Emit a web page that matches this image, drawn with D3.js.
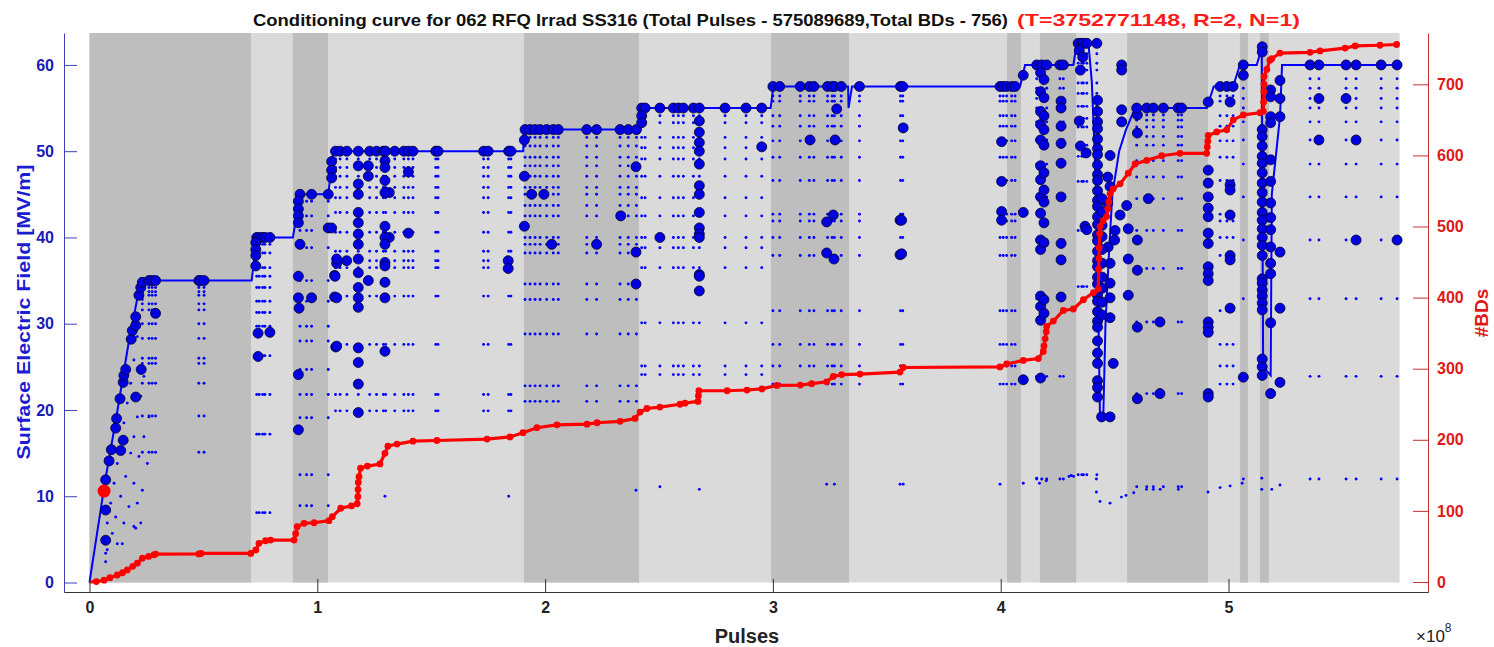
<!DOCTYPE html>
<html><head><meta charset="utf-8">
<script src="https://cdn.jsdelivr.net/npm/d3@7"></script>
<style>body{margin:0;background:#fff;} svg{display:block;} text{font-family:"Liberation Sans",Arial,sans-serif;}</style>
</head><body><svg id="c" width="1494" height="647"></svg>
<script>
// ---------------- DATA (pulses in units of 1e8) ----------------
const titleMain = "Conditioning curve for 062 RFQ Irrad SS316 (Total Pulses - 575089689,Total BDs - 756)";
const titleRed = "(T=3752771148, R=2, N=1)";
const totalPulses = 5.75089689;
const xTicks = [0,1,2,3,4,5];
const leftTicks = [0,10,20,30,40,50,60];
const rightTicks = [0,100,200,300,400,500,600,700];

// darker shaded periods [start, end]
const darkBands = [[0,0.709],[0.893,1.047],[1.907,2.412],[2.992,3.334],[4.028,4.089],[4.172,4.331],[4.555,4.910],[5.050,5.085],[5.138,5.177]];

// conditioning field set-point (blue line)
const fieldLine = [[0,0],[0.07,12],[0.12,19.5],[0.17,27.5],[0.225,35],[0.712,35],[0.733,40],[0.893,40],[0.924,45],[1.048,45],[1.07,50],[1.904,50],[1.907,52.5],[2.409,52.5],[2.431,55],[2.99,55],[3.002,57.5],[3.33,57.5],[3.332,55],[3.347,57.5],[4.085,57.5],[4.107,60],[4.319,60],[4.334,62.5],[4.385,62.5],[4.40,58],[4.42,45],[4.436,19],[4.45,19],[4.46,30],[4.475,38],[4.49,45],[4.52,50],[4.55,52.5],[4.59,55],[4.905,55],[4.935,57.5],[5.02,57.5],[5.05,60],[5.124,60],[5.146,62],[5.152,25],[5.185,24],[5.19,45],[5.226,54],[5.235,60],[5.75,60]];

// breakdown events (large blue markers)
const bigDots = [[0.071,4.9],[0.071,8.4],[0.071,11.9],[0.086,14.1],[0.096,15.4],[0.137,15.3],[0.148,16.5],[0.115,17.9],[0.119,19.0],[0.134,21.3],[0.203,21.5],[0.148,23.2],[0.151,24.0],[0.159,24.7],[0.227,24.7],[0.183,28.2],[0.188,29.2],[0.203,29.8],[0.203,30.8],[0.29,31.2],[0.217,33.3],[0.225,34.2],[0.232,34.8],[0.261,35],[0.275,35],[0.29,35],[0.48,35],[0.487,35],[0.503,35],
[0.734,40],[0.745,40],[0.76,40],[0.77,40],[0.792,40],[0.73,39.4],[0.73,38.6],[0.73,37.9],[0.73,36.7],[0.74,28.9],[0.792,29.0],[0.74,26.2],
[0.924,45],[0.975,45],[1.048,45],[0.917,44.2],[0.917,43.3],[0.917,42.5],[0.917,41.7],[0.924,39.2],[0.917,35.5],[0.917,33.0],[0.975,33.0],[0.917,24.1],[0.917,17.7],[1.048,41.1],[0.92,31.8],[1.081,27.3],[1.076,33.1],[1.076,35.6],[1.085,37.0],
[1.08,50],[1.10,50],[1.13,50],[1.18,50],[1.23,50],[1.26,50],[1.063,48.8],[1.063,47.8],[1.063,46.9],[1.063,41.1],[1.085,37.5],[1.129,37.3],[1.078,35.5],[1.085,33.0],[1.085,27.4],[1.224,48.3],[1.224,47.1],[1.224,35.0],
[1.29,50],[1.30,50],[1.34,50],[1.38,50],[1.40,50],[1.42,50],[1.52,50],[1.53,50],[1.73,50],[1.75,50],[1.84,50],[1.85,50],[1.316,45.2],[1.316,40.0],[1.40,47.6],[1.40,40.5],[1.838,37.3],[1.838,36.4],
[1.912,52.5],[1.934,52.5],[1.956,52.5],[1.978,52.5],[2.007,52.5],[2.036,52.5],[2.058,52.5],[2.183,52.5],[2.226,52.5],[2.329,52.5],[2.365,52.5],[2.401,52.5],[1.909,51.3],[1.909,47.1],[1.909,41.3],[1.941,45.0],[1.995,45.0],[2.029,39.2],[2.226,39.2],[2.332,42.5],[2.399,48.2],[2.399,38.3],[2.399,34.6],
[2.424,55],[2.439,55],[2.504,55],[2.563,55],[2.585,55],[2.607,55],[2.651,55],[2.677,55],[2.79,55],[2.882,55],[2.951,55],[2.424,54.1],[2.424,53.3],[2.504,40.0],[2.951,50.5],
[3.0,57.5],[3.03,57.5],[3.12,57.5],[3.16,57.5],[3.18,57.5],[3.24,57.5],[3.26,57.5],[3.27,57.5],[3.30,57.5],[3.38,57.5],[3.56,57.5],[3.57,57.5],[3.163,51.3],[3.273,51.3],[3.28,54.9],[3.572,52.7],[3.236,41.8],[3.265,42.6],[3.236,38.2],[3.268,37.5],[3.558,42.0],[3.565,42.0],[3.558,38.0],[3.565,38.1],
[3.997,57.5],[4.011,57.5],[4.026,57.5],[4.048,57.5],[4.063,57.5],[4.158,60],[4.18,60],[4.202,60],[4.26,60],[4.275,60],[4.099,58.8],[4.004,51.1],[4.004,46.5],[4.004,43.0],[4.004,42.0],[4.099,42.9],[4.099,23.5],
[4.34,62.5],[4.356,62.5],[4.363,62.5],[4.378,62.5],[4.422,62.5],[4.345,61.7],[4.36,60.9],[4.35,59.4],[4.345,53.5],[4.35,50.6],[4.375,49.8],[4.37,41.3],[4.378,40.9],
[4.443,19.2],[4.48,19.2],[4.48,49.5],[4.48,45.9],[4.494,25.4],[4.531,60.0],[4.531,59.4],[4.531,54.8],[4.531,53.4],[4.6,54.2],[4.6,52.1],[4.6,39.7],[4.6,36.2],[4.6,29.6],[4.6,21.3],[4.56,41.0],[4.56,37.5],[4.56,33.3],[4.553,43.7],[4.524,42.6],[4.502,40.8],[4.472,38.9],[4.48,37.0],[4.48,34.7],[4.48,33.0],[4.48,30.7],[4.50,39.7],[4.47,44],[4.47,47],
[4.597,55],[4.641,55],[4.670,55],[4.714,55],[4.779,55],[4.794,55],[4.648,44.5],[4.699,30.2],[4.699,21.9],
[4.963,57.5],[4.993,57.5],[5.02,57.5],[5.007,55.7],[5.007,46.1],[5.007,45.5],[5.007,42.6],[5.007,37.9],[5.007,37.4],[5.007,31.8],[5.065,60.0],[5.065,23.8],[5.065,58.8],
[5.226,58.2],[5.226,56.1],[5.226,54.0],[5.226,38.3],[5.226,31.8],[5.226,23.2],
[5.358,60],[5.397,60],[5.516,60],[5.560,60],[5.670,60],[5.740,60],[5.397,56.1],[5.516,56.1],[5.397,51.3],[5.560,51.3],[5.560,39.7],[5.740,39.7]];

// dense stacks of breakdown markers: [pulses, [fields]]
const bigStacks = [
 [1.18,[48.3,46.2,45.0,42.9,41.7,40.4,39.2,37.5,35.9,34.2,33.0,31.9,27.2,25.5,23.0,19.7]],
 [1.297,[48.9,48.1,46.6,45.2,41.3,40.0,39.2,37.1,36.7,34.8,33.0,26.8]],
 [2.677,[53.5,52.2,51.0,50.0,48.5,46.0,45.0,42.9,41.1,40.4,40.0,35.7,35.5,33.8]],
 [4.175,[59.1,56.9,54.6,53.1,51.3,48.3,46.7,44.7,42.8,39.7,38.6,33.2,32.0,30.4,23.7]],
 [4.19,[58.3,56.2,54.1,52.5,50.7,47.5,45.5,44.1,41.7,39.4,32.8,31.2]],
 [4.265,[55.8,55.0,52.9,50.9,48.6,44.7,39.3,37.4,33.1]],
 [4.425,[55.9,54.6,53.4,52.6,51.4,50.3,49.6,48.4,47.3,46.6,45.4,44.3,43.6,42.4,41.5,40.3,39.6,38.4,37.3,36.6,35.4,34.6,33.3,32.6,31.4,30.3,29.6,28.0,26.6,25.4,23.4,22.6,21.5]],
 [4.445,[44.5,43.0,41.4,40.1,38.6,37.0,35.4,34.1,32.5,31.0]],
 [4.911,[55.7,47.8,46.3,44.7,43.4,42.4,40.5,39.3,36.6,35.8,35.0,30.2,29.6,29.0,21.9,21.5]],
 [5.148,[62.1,61.5,52.5,51.7,50.6,49.4,48.6,47.5,46.3,45.2,44.1,42.9,42.0,41.0,40.0,39.1,37.9,35.2,34.7,33.9,33.2,32.4,31.6,25.9,25.0,24.0]],
 [5.185,[57.1,56.3,54.0,53.3,49.0,46.5,44.0,42.3,40.9,38.9,37.0,35.8,30.1,21.9]]
];

// small pulse markers: columns (pulses) and the field levels seen below each plateau
const cols35 = [0.232,0.261,0.275,0.29,0.48,0.503];
const lv35 = [34.2,33.7,33.3,32.3,31.6,30.0,28.3,26.0,25.4,23.1,19.3,15.1];
const cols40 = [0.734,0.745,0.76,0.77,0.792];
const lv40 = [39.2,38.2,36.5,35.5,34.2,32.6,31.3,29.7,26.3,21.8,17.2,8.1];
const cols45 = [0.924,0.953,0.975,1.048];
const lv45 = [44.2,42.5,40.8,38.8,35.0,32.6,29.7,28.0,24.7,21.8,19.1,12.5,8.9];
const cols50 = [1.08,1.10,1.13,1.18,1.23,1.26,1.29,1.30,1.34,1.38,1.40,1.42,1.52,1.53,1.73,1.75,1.84,1.85];
const lv50 = [49.1,48.1,47.1,45.8,44.6,42.9,40.6,38.4,37.3,36.5,33.2,27.6,21.8,19.9];
const cols52 = [1.912,1.934,1.956,1.978,2.007,2.036,2.058,2.183,2.226,2.329,2.365,2.401];
const lv52 = [51.6,50.6,49.3,48.3,47.1,45.8,45.0,43.7,42.5,40.0,39.2,38.2,34.6,32.8,28.8,22.8,21.0];
const cols55 = [2.424,2.439,2.504,2.563,2.585,2.607,2.651,2.677,2.79,2.882,2.951];
const lv55 = [54.1,53.3,51.6,50.4,49.1,47.1,44.6,42.5,40.0,38.8,36.5,30.1,25.1,24.1];
const cols57 = [3.0,3.03,3.12,3.16,3.18,3.24,3.26,3.27,3.30,3.38,3.56,3.57,3.997,4.011,4.026,4.048,4.063,4.963,4.993,5.02];
const lv57 = [56.4,55.8,54.1,52.9,51.2,49.3,46.6,42.7,41.9,40.0,37.9,31.5,27.6,25.1,23.0];
const cols60 = [4.158,4.18,4.202,4.26,4.275,5.065,5.358,5.397,5.516,5.560,5.670,5.740];
const lv60 = [58.4,57.3,56.1,55.0,53.4,51.3,48.5,44.7,39.7,32.9,23.9,12.0];
const cols62 = [4.34,4.356,4.363,4.378,4.422];
const lv62 = [61.3,60.2,59.4,57.9,56.7,55.2,53.8,52.8,50.7,49.4,46.5,40.8,34.3,12.5];
const cols55b = [4.597,4.641,4.670,4.714,4.779,4.794];
const lv55b = [54.2,53.6,52.8,51.7,50.7,48.9,47.0,44.5,40.8,36.4,30.2,21.9,11.1];

// isolated small pulse markers [pulses, field]
const smallDots = [[0.078,6.9],[0.093,9.2],[0.108,11.5],[0.122,13.8],[0.137,16.2],[0.151,18.5],[0.166,20.8],[0.181,23.1],[0.195,25.8],[0.21,28.5],[0.217,30.8],[0.232,32.8],
[0.078,3.8],[0.1,5.7],[0.115,7.6],[0.137,10.0],[0.159,12.3],[0.181,15.0],[0.195,16.9],[0.21,19.2],[0.225,21.6],[0.239,23.9],
[0.122,4.5],[0.151,6.9],[0.173,8.8],[0.195,11.5],[0.217,14.6],[0.239,16.9],[0.261,19.2],
[0.144,4.5],[0.195,6.5],[0.21,9.2],[0.232,10.7],[0.254,13.8],[0.071,3.4],[0.071,2.4],[0.203,6.3],[0.225,6.9],
[1.297,10.0],[1.84,10.0],[2.399,10.7],[2.504,11.1],[2.677,10.8],[3.236,11.4],[3.27,11.4],[3.558,11.4],[3.572,11.4],[3.997,11.4],
[4.099,11.5],[4.158,12.1],[4.17,11.5],[4.20,11.8],[4.30,12.3],[4.31,12.4],[4.32,12.3],[4.42,12.0],[4.42,10.5],[4.436,9.4],[4.48,9.2],[4.53,9.9],[4.55,10.1],[4.584,10.4],[4.64,10.8],[4.67,10.8],[4.70,10.8],[4.78,10.8],[4.91,10.5],[4.963,11.0],[5.007,11.2],[5.06,11.5],[5.146,12.1],[5.146,10.8],[5.19,10.8],[5.226,11.3]];

// cumulative number of breakdowns (red curve)
const bdCurve = [[0,0],[0.03,0.5],[0.064,2.5],[0.09,6],[0.122,9.8],[0.145,13],[0.166,17],[0.19,22],[0.21,26.4],[0.232,33.4],[0.26,36],[0.283,38.2],[0.29,39.2],[0.48,39.5],[0.49,40.2],[0.708,40.2],[0.73,45],[0.744,54.3],[0.773,58],[0.795,59],[0.898,59],[0.905,68],[0.912,77.8],[0.942,82.5],[0.986,83.3],[1.051,86.2],[1.066,91.8],[1.103,103.7],[1.15,107],[1.175,110],[1.178,120],[1.179,130],[1.18,140],[1.183,148],[1.19,160],[1.22,163],[1.275,166],[1.297,181],[1.31,191],[1.35,194],[1.42,198],[1.525,199],[1.745,201],[1.846,204],[1.903,210],[1.964,217],[2.052,221],[2.184,222],[2.228,224],[2.329,226],[2.395,230],[2.417,239],[2.447,244],[2.504,246],[2.592,250],[2.614,251.5],[2.671,254],[2.673,262],[2.675,269],[2.799,269],[2.886,270],[2.952,271.5],[3.018,276.5],[3.12,277],[3.17,279],[3.236,281.6],[3.265,289],[3.302,291.7],[3.382,292.5],[3.558,295.2],[3.572,301.7],[3.997,302.5],[4.026,306.6],[4.099,311.7],[4.165,314.2],[4.187,324.3],[4.19,332],[4.195,342],[4.2,352],[4.202,359.5],[4.231,367],[4.275,382],[4.319,384],[4.363,397],[4.407,407],[4.428,412],[4.43,440],[4.431,455],[4.432,470],[4.434,490],[4.436,500],[4.45,508],[4.465,514],[4.47,525],[4.475,535],[4.48,546],[4.494,553],[4.524,560],[4.56,575],[4.59,588],[4.641,593],[4.707,599.6],[4.787,603],[4.904,603],[4.907,612],[4.909,620],[4.911,628],[4.948,633],[4.992,636],[5.021,650],[5.065,657],[5.138,660],[5.153,662],[5.154,675],[5.155,690],[5.1555,700],[5.156,711],[5.168,721],[5.182,734],[5.19,736],[5.226,744],[5.358,745],[5.402,747],[5.512,751],[5.556,754],[5.665,755],[5.738,756]];

// highlighted point (large red marker), left axis units
const redMarker = [[0.064,10.6]];

// ---------------- DRAWING ----------------
const svg = d3.select('#c');
const FONT = '"Liberation Sans", Arial, sans-serif';
const x = d3.scaleLinear().domain([-0.1119, 5.8757]).range([64, 1428]);
const yL = d3.scaleLinear().domain([-1.1, 63.7]).range([592, 33]);
const yR = d3.scaleLinear().domain([-14.1, 772.2]).range([592, 33]);

svg.append('rect').attr('width',1494).attr('height',647).attr('fill','#fff');

// shaded background
svg.append('rect').attr('x', x(0)).attr('y', yL(63.7))
  .attr('width', x(totalPulses) - x(0)).attr('height', yL(0) - yL(63.7)).attr('fill', '#dadada');
svg.append('g').selectAll('rect').data(darkBands).join('rect')
  .attr('x', d => x(d[0])).attr('y', yL(63.7))
  .attr('width', d => x(d[1]) - x(d[0])).attr('height', yL(0) - yL(63.7)).attr('fill', '#bebebe');

// small markers
const groups = [[cols35,lv35],[cols40,lv40],[cols45,lv45],[cols50,lv50],[cols52,lv52],[cols55,lv55],[cols57,lv57],[cols60,lv60],[cols62,lv62],[cols55b,lv55b]];
const smallAll = [];
groups.forEach(([cs, lv]) => cs.forEach(c => lv.forEach(v => smallAll.push([c, v]))));
smallDots.forEach(d => smallAll.push(d));
svg.append('g').selectAll('circle').data(smallAll).join('circle')
  .attr('cx', d => x(d[0])).attr('cy', d => yL(d[1])).attr('r', 1.45).attr('fill', '#0000ff');

// field line
svg.append('path').datum(fieldLine)
  .attr('d', d3.line().x(d => x(d[0])).y(d => yL(d[1])))
  .attr('fill', 'none').attr('stroke', '#0000ff').attr('stroke-width', 2);

// big markers
const bigAll = bigDots.slice();
bigStacks.forEach(([c, lv]) => lv.forEach(v => bigAll.push([c, v])));
svg.append('g').selectAll('circle').data(bigAll).join('circle')
  .attr('cx', d => x(d[0])).attr('cy', d => yL(d[1])).attr('r', 5)
  .attr('fill', '#0000e0').attr('stroke', '#000033').attr('stroke-width', 0.8);

// BD curve
svg.append('path').datum(bdCurve)
  .attr('d', d3.line().x(d => x(d[0])).y(d => yR(d[1])))
  .attr('fill', 'none').attr('stroke', '#ff0000').attr('stroke-width', 3.2);
svg.append('g').selectAll('circle').data(bdCurve.slice(1)).join('circle')
  .attr('cx', d => x(d[0])).attr('cy', d => yR(d[1])).attr('r', 3.4).attr('fill', '#ff0000');
svg.append('g').selectAll('circle').data(redMarker).join('circle')
  .attr('cx', d => x(d[0])).attr('cy', d => yL(d[1])).attr('r', 6.5).attr('fill', '#ff0000');

// axes
function styleAxis(g, lineColor, textColor, size) {
  g.attr('font-family', FONT).attr('font-size', size).attr('font-weight', 'bold');
  g.select('.domain').attr('stroke', lineColor).attr('stroke-width', 1);
  g.selectAll('.tick line').attr('stroke', lineColor).attr('stroke-width', 1);
  g.selectAll('.tick text').attr('fill', textColor);
}
const gL = svg.append('g').attr('transform', 'translate(64,0)')
  .call(d3.axisLeft(yL).tickValues(leftTicks).tickSize(-13).tickSizeOuter(0).tickPadding(10));
styleAxis(gL, '#4040b8', '#1a1ab8', 16);
const gR = svg.append('g').attr('transform', 'translate(1428,0)')
  .call(d3.axisRight(yR).tickValues(rightTicks).tickSize(-15).tickSizeOuter(0).tickPadding(9));
styleAxis(gR, '#c83030', '#e01818', 16);
const gB = svg.append('g').attr('transform', 'translate(0,592)')
  .call(d3.axisBottom(x).tickValues(xTicks).tickFormat(d3.format('d')).tickSize(-13).tickSizeOuter(0).tickPadding(10));
styleAxis(gB, '#333', '#222', 16);

// titles & labels
svg.append('text').attr('x', 253).attr('y', 26).attr('font-family', FONT).attr('font-size', 17).attr('font-weight', 'bold')
  .attr('fill', '#111').attr('textLength', 755).attr('lengthAdjust', 'spacingAndGlyphs').text(titleMain);
svg.append('text').attr('x', 1017).attr('y', 26).attr('font-family', FONT).attr('font-size', 17).attr('font-weight', 'bold')
  .attr('fill', '#ff1a1a').attr('textLength', 283).attr('lengthAdjust', 'spacingAndGlyphs').text(titleRed);

svg.append('text').attr('transform', 'translate(30,312) rotate(-90)').attr('text-anchor', 'middle')
  .attr('font-family', FONT).attr('font-size', 19).attr('font-weight', 'bold').attr('fill', '#1c1cd0')
  .attr('textLength', 295).attr('lengthAdjust', 'spacingAndGlyphs').text('Surface Electric Field [MV/m]');
svg.append('text').attr('transform', 'translate(1488,313) rotate(-90)').attr('text-anchor', 'middle')
  .attr('font-family', FONT).attr('font-size', 19).attr('font-weight', 'bold').attr('fill', '#e01818')
  .text('#BDs');
svg.append('text').attr('x', 747).attr('y', 643).attr('text-anchor', 'middle')
  .attr('font-family', FONT).attr('font-size', 20).attr('font-weight', 'bold').attr('fill', '#222').text('Pulses');
const ex = svg.append('text').attr('x', 1416).attr('y', 642).attr('font-family', FONT).attr('font-size', 17).attr('fill', '#222');
ex.append('tspan').text('\u00d710');
ex.append('tspan').attr('dy', -10).attr('font-size', 12).text('8');
</script></body></html>
